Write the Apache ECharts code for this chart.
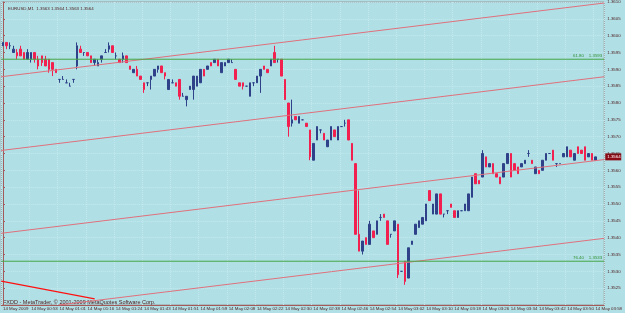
<!DOCTYPE html>
<html lang="en">
<head>
<meta charset="UTF-8">
<title>EURUSD,M1</title>
<style>
  html, body { margin: 0; padding: 0; background: #b0e0e6; }
  #main { width: 625px; height: 313px; }
</style>
</head>
<body>
<div id="main"></div>
<script src="https://cdn.jsdelivr.net/npm/echarts@6/dist/echarts.min.js"></script>
<script>
// tick labels, one every 8 bars
const tickLabels = ['14 May 2009', '14 May 00:53', '14 May 01:01', '14 May 01:16', '14 May 01:24', '14 May 01:43',
  '14 May 01:51', '14 May 01:59', '14 May 02:08', '14 May 02:22', '14 May 02:30', '14 May 02:38', '14 May 02:46',
  '14 May 02:54', '14 May 03:02', '14 May 03:10', '14 May 03:18', '14 May 03:26', '14 May 03:34', '14 May 03:42',
  '14 May 03:50', '14 May 03:58'];

// M1 bars
const opens = [
  1.3597,1.3598,1.3597,1.3595,1.3595,1.3596,1.3595,1.3593,1.3593,1.3595,
  1.3593,1.3594,1.3593,1.3593,1.3592,1.3590,1.3587,1.3587,1.3586,1.3585,
  1.3587,1.3591,1.3596,1.3595,1.3595,1.3594,1.3592,1.3591,1.3593,1.3595,
  1.3596,1.3597,1.3594,1.3593,1.3593,1.3594,1.3591,1.3589,1.3590,1.3588,
  1.3586,1.3586,1.3587,1.3588,1.3590,1.3591,1.3589,1.3584,1.3586,1.3586,
  1.3587,1.3582,1.3581,1.3584,1.3584,1.3585,1.3586,1.3590,1.3590,1.3592,
  1.3592,1.3593,1.3589,1.3591,1.3592,1.3592,1.3590,1.3586,1.3586,1.3585,
  1.3582,1.3586,1.3586,1.3588,1.3591,1.3590,1.3591,1.3595,1.3593,1.3593,
  1.3587,1.3580,1.3574,1.3576,1.3574,1.3575,1.3574,1.3572,1.3563,1.3569,
  1.3572,1.3571,1.3567,1.3569,1.3572,1.3569,1.3573,1.3574,1.3575,1.3568,
  1.3562,1.3541,1.3536,1.3540,1.3538,1.3542,1.3541,1.3546,1.3547,1.3545,
  1.3541,1.3542,1.3544,1.3530,1.3533,1.3528,1.3538,1.3541,1.3543,1.3544,
  1.3545,1.3554,1.3547,1.3547,1.3553,1.3547,1.3548,1.3550,1.3548,1.3546,
  1.3548,1.3548,1.3548,1.3552,1.3559,1.3557,1.3558,1.3564,1.3561,1.3562,
  1.3559,1.3558,1.3558,1.3562,1.3565,1.3562,1.3561,1.3561,1.3562,1.3565,
  1.3563,1.3559,1.3560,1.3560,1.3563,1.3565,1.3566,1.3562,1.3562,1.3564,
  1.3564,1.3566,1.3563,1.3567,1.3566,1.3567,1.3564,1.3565,1.3563
];
const closes = [
  1.3598,1.3597,1.3597,1.3596,1.3594,1.3594,1.3593,1.3595,1.3595,1.3593,
  1.3591,1.3592,1.3591,1.3590,1.3590,1.3589,1.3587,1.3587,1.3586,1.3585,
  1.3587,1.3597,1.3595,1.3595,1.3594,1.3592,1.3593,1.3592,1.3594,1.3595,
  1.3597,1.3595,1.3594,1.3592,1.3594,1.3592,1.3590,1.3590,1.3588,1.3587,
  1.3584,1.3586,1.3588,1.3590,1.3591,1.3589,1.3588,1.3587,1.3586,1.3585,
  1.3582,1.3582,1.3582,1.3585,1.3588,1.3588,1.3590,1.3588,1.3591,1.3591,
  1.3593,1.3591,1.3592,1.3592,1.3593,1.3592,1.3587,1.3585,1.3585,1.3585,
  1.3586,1.3586,1.3588,1.3590,1.3590,1.3589,1.3593,1.3592,1.3593,1.3588,
  1.3581,1.3573,1.3575,1.3575,1.3576,1.3575,1.3573,1.3564,1.3568,1.3573,
  1.3572,1.3569,1.3569,1.3573,1.3570,1.3573,1.3573,1.3574,1.3569,1.3563,
  1.3541,1.3536,1.3539,1.3538,1.3544,1.3540,1.3545,1.3546,1.3546,1.3538,
  1.3541,1.3545,1.3529,1.3530,1.3527,1.3537,1.3539,1.3544,1.3545,1.3546,
  1.3550,1.3551,1.3550,1.3553,1.3547,1.3547,1.3548,1.3549,1.3546,1.3548,
  1.3548,1.3550,1.3553,1.3558,1.3556,1.3556,1.3565,1.3561,1.3562,1.3559,
  1.3558,1.3556,1.3562,1.3565,1.3558,1.3560,1.3559,1.3562,1.3563,1.3565,
  1.3562,1.3561,1.3559,1.3563,1.3565,1.3565,1.3563,1.3562,1.3562,1.3565,
  1.3567,1.3564,1.3565,1.3565,1.3565,1.3563,1.3565,1.3563,1.3564
];
const lows = [
  1.3597,1.3596,1.3596,1.3595,1.3593,1.3594,1.3593,1.3593,1.3592,1.3592,
  1.3590,1.3591,1.3591,1.3589,1.3588,1.3589,1.3586,1.3587,1.3586,1.3585,
  1.3586,1.3590,1.3595,1.3594,1.3594,1.3592,1.3591,1.3591,1.3592,1.3595,
  1.3595,1.3595,1.3593,1.3592,1.3592,1.3592,1.3590,1.3589,1.3588,1.3587,
  1.3583,1.3585,1.3584,1.3588,1.3589,1.3589,1.3587,1.3584,1.3586,1.3585,
  1.3581,1.3582,1.3579,1.3584,1.3581,1.3585,1.3586,1.3588,1.3590,1.3591,
  1.3592,1.3591,1.3589,1.3591,1.3592,1.3592,1.3587,1.3585,1.3584,1.3585,
  1.3582,1.3585,1.3586,1.3583,1.3590,1.3589,1.3591,1.3592,1.3592,1.3588,
  1.3581,1.3570,1.3573,1.3575,1.3574,1.3575,1.3573,1.3563,1.3563,1.3569,
  1.3571,1.3569,1.3567,1.3569,1.3570,1.3569,1.3573,1.3573,1.3569,1.3563,
  1.3541,1.3536,1.3535,1.3538,1.3538,1.3540,1.3541,1.3545,1.3546,1.3538,
  1.3540,1.3542,1.3528,1.3530,1.3526,1.3528,1.3538,1.3541,1.3543,1.3544,
  1.3545,1.3551,1.3547,1.3547,1.3547,1.3546,1.3547,1.3549,1.3546,1.3546,
  1.3548,1.3548,1.3548,1.3552,1.3556,1.3556,1.3558,1.3561,1.3561,1.3559,
  1.3558,1.3556,1.3558,1.3562,1.3558,1.3560,1.3559,1.3561,1.3562,1.3564,
  1.3562,1.3559,1.3559,1.3560,1.3563,1.3565,1.3563,1.3561,1.3562,1.3564,
  1.3564,1.3564,1.3563,1.3565,1.3565,1.3563,1.3564,1.3563,1.3563
];
const highs = [
  1.3598,1.3598,1.3598,1.3597,1.3596,1.3597,1.3595,1.3596,1.3595,1.3595,
  1.3594,1.3594,1.3594,1.3593,1.3592,1.3590,1.3587,1.3588,1.3587,1.3586,
  1.3587,1.3598,1.3597,1.3595,1.3595,1.3594,1.3593,1.3593,1.3594,1.3596,
  1.3598,1.3597,1.3595,1.3593,1.3595,1.3594,1.3591,1.3590,1.3591,1.3588,
  1.3586,1.3586,1.3588,1.3590,1.3591,1.3591,1.3589,1.3587,1.3587,1.3586,
  1.3587,1.3583,1.3582,1.3585,1.3588,1.3588,1.3590,1.3590,1.3591,1.3592,
  1.3593,1.3593,1.3592,1.3592,1.3593,1.3593,1.3590,1.3586,1.3586,1.3585,
  1.3586,1.3586,1.3588,1.3590,1.3591,1.3590,1.3593,1.3597,1.3593,1.3593,
  1.3587,1.3580,1.3581,1.3576,1.3576,1.3575,1.3574,1.3572,1.3568,1.3573,
  1.3572,1.3571,1.3569,1.3573,1.3572,1.3573,1.3573,1.3575,1.3575,1.3568,
  1.3562,1.3554,1.3539,1.3540,1.3545,1.3542,1.3545,1.3547,1.3547,1.3545,
  1.3541,1.3545,1.3544,1.3530,1.3533,1.3537,1.3539,1.3544,1.3545,1.3546,
  1.3550,1.3554,1.3550,1.3553,1.3553,1.3547,1.3548,1.3550,1.3548,1.3548,
  1.3548,1.3550,1.3553,1.3558,1.3559,1.3557,1.3566,1.3564,1.3562,1.3562,
  1.3559,1.3558,1.3562,1.3565,1.3565,1.3562,1.3561,1.3562,1.3563,1.3566,
  1.3563,1.3561,1.3560,1.3563,1.3565,1.3565,1.3566,1.3562,1.3562,1.3565,
  1.3567,1.3566,1.3565,1.3567,1.3566,1.3567,1.3565,1.3565,1.3564
];

// drawn objects: trend channel lines [bar index, price] and fibo levels
const channelLines = [
  [[-0.5, 1.35878], [170.5, 1.36097]],
  [[-0.5, 1.35659], [170.5, 1.35878]],
  [[-0.5, 1.35413], [170.5, 1.35632]],
  [[15.8, 1.35200], [170.5, 1.35398]]
];
const fiboBase = [[-0.5, 1.35271], [26, 1.35218]];
const fiboLevels = [['61.80', 1.3593], ['76.40', 1.3533]];
const lastPrice = 1.3564;

const TXT = '#4e1c1c';
const AXIS = '#a55a5a';
const GRIDLINE = '#c3e8ee';
const GREEN = '#46a646';
const FONT = 'Liberation Sans, Arial, sans-serif';
const X_END = 170.5;

const cats = opens.map((o, i) => String(i)).concat(['e1', 'e2']);
const candles = opens.map((o, i) => [o, closes[i], lows[i], highs[i]]);

const lineSeries = channelLines.map(seg => ({
  type: 'line', xAxisIndex: 1, data: seg, symbol: 'none', silent: true,
  lineStyle: { color: '#e0707c', width: 1 }
}));
lineSeries.push({
  type: 'line', xAxisIndex: 1, data: fiboBase, symbol: 'none', silent: true,
  lineStyle: { color: '#ff1010', width: 1.2 }
});
fiboLevels.forEach(f => {
  lineSeries.push({
    type: 'line', xAxisIndex: 1, data: [[-0.5, f[1]], [X_END, f[1]]], symbol: 'none', silent: true,
    lineStyle: { color: GREEN, width: 1 }
  });
});

const chart = echarts.init(document.getElementById('main'));
chart.setOption({
  animation: false,
  backgroundColor: '#b0e0e6',
  textStyle: { fontFamily: FONT },
  title: {
    text: 'EURUSD,M1  1.3563 1.3564 1.3563 1.3564',
    left: 3, top: 2,
    textStyle: { fontSize: 4.4, fontWeight: 'normal', color: TXT, fontFamily: FONT }
  },
  grid: { left: 0, right: 17, top: 1, bottom: 8, show: true, borderColor: '#9a9a9a', borderWidth: 1 },
  xAxis: [{
    type: 'category',
    data: cats,
    axisLine: { lineStyle: { color: AXIS } },
    axisTick: { interval: 7, length: 2, lineStyle: { color: AXIS } },
    splitLine: { show: true, interval: 7, lineStyle: { color: GRIDLINE, type: 'dotted' } },
    axisLabel: {
      interval: 7, align: 'left', margin: 1.5, fontSize: 4.4, color: TXT, fontFamily: FONT,
      formatter: (v, i) => tickLabels[i / 8] || ''
    }
  }, {
    type: 'value', min: -0.5, max: X_END, show: false
  }],
  yAxis: {
    type: 'value',
    position: 'right',
    min: 1.3520, max: 1.3610, interval: 0.0005,
    axisLine: { show: true, lineStyle: { color: AXIS } },
    axisTick: { show: true, length: 2, lineStyle: { color: AXIS } },
    splitLine: { show: true, lineStyle: { color: GRIDLINE, type: 'dotted' } },
    axisLabel: {
      showMinLabel: false, margin: 3, fontSize: 4.4, color: TXT, fontFamily: FONT,
      formatter: v => v.toFixed(4)
    }
  },
  series: [{
    type: 'candlestick',
    data: candles,
    barWidth: 2,
    itemStyle: {
      color: '#2f4289', color0: '#f2204f',
      borderColor: '#2f4289', borderColor0: '#f2204f', borderColorDoji: '#2f4289',
      borderWidth: 1
    }
  }].concat(lineSeries)
});

// texts placed through the chart's own scales
const gx = chart.convertToPixel({ xAxisIndex: 1 }, X_END);
const graphics = [{
  type: 'text', left: 3, top: 299,
  style: { text: 'FXDD - MetaTrader, © 2001-2009 MetaQuotes Software Corp.', fontSize: 5.5, fill: TXT, fontFamily: FONT }
}];
fiboLevels.forEach(f => {
  const py = chart.convertToPixel({ yAxisIndex: 0 }, f[1]);
  graphics.push({
    type: 'text', x: gx - 2, y: py - 1,
    style: { text: f[0] + '    ' + f[1].toFixed(4), fontSize: 4.4, fill: '#2f8f2f', fontFamily: FONT,
      align: 'right', verticalAlign: 'bottom' }
  });
});
const bidY = chart.convertToPixel({ yAxisIndex: 0 }, lastPrice);
graphics.push({
  type: 'rect', shape: { x: gx + 1, y: bidY - 3.5, width: 16, height: 7 },
  style: { fill: '#8b0c16' }
}, {
  type: 'text', x: gx + 3, y: bidY,
  style: { text: lastPrice.toFixed(4), fontSize: 4.4, fill: '#ffffff', fontFamily: FONT, verticalAlign: 'middle' }
});
chart.setOption({ graphic: graphics });
</script>
</body>
</html>
